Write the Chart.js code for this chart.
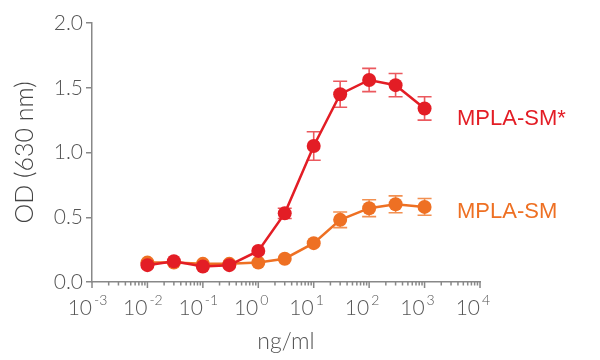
<!DOCTYPE html>
<html>
<head>
<meta charset="utf-8">
<script src="https://cdn.jsdelivr.net/npm/chart.js@4.4.0/dist/chart.umd.min.js"></script>
<style>
  body { margin: 0; background: #fff; }
  #wrap { width: 600px; height: 360px; }
</style>
</head>
<body>
<div id="wrap"><canvas id="myChart"></canvas></div>
<script>
// data
const doses = [0.01, 0.03, 0.1, 0.3, 1, 3, 10, 30, 100, 300, 1000]
const smStar = [0.13, 0.16, 0.12, 0.13, 0.24, 0.53, 1.05, 1.45, 1.56, 1.52, 1.34]
const smStarErr = [0, 0, 0, 0, 0, 0.04, 0.11, 0.1, 0.09, 0.09, 0.09]
const sm = [0.15, 0.15, 0.14, 0.14, 0.15, 0.18, 0.3, 0.48, 0.57, 0.6, 0.58]
const smErr = [0, 0, 0, 0, 0, 0, 0, 0.06, 0.065, 0.065, 0.065]
const xExponents = [-3, -2, -1, 0, 1, 2, 3, 4]
const yTicks = [0, 0.5, 1, 1.5, 2]

const RED = "#e31d25"
const ORANGE = "#ee7023"
const AXIS = "#888"
const TEXT = "#555"

const toPoints = (vals) => vals.map((v, i) => ({ x: doses[i], y: v }))

// error bars, drawn under the markers
const errorBars = {
  id: "errorBars",
  beforeDatasetsDraw(chart) {
    const { ctx, scales } = chart
    const sets = [
      { vals: smStar, err: smStarErr, color: "rgba(232,60,66,0.85)" },
      { vals: sm, err: smErr, color: "rgba(240,125,50,0.85)" },
    ]
    ctx.save()
    ctx.lineWidth = 1.6
    sets.forEach((s) => {
      ctx.strokeStyle = s.color
      s.vals.forEach((v, i) => {
        if (!s.err[i]) return
        const x = scales.x.getPixelForValue(doses[i])
        const yt = scales.y.getPixelForValue(v + s.err[i])
        const yb = scales.y.getPixelForValue(v - s.err[i])
        ctx.beginPath()
        ctx.moveTo(x, yt); ctx.lineTo(x, yb)
        ctx.moveTo(x - 7, yt); ctx.lineTo(x + 7, yt)
        ctx.moveTo(x - 7, yb); ctx.lineTo(x + 7, yb)
        ctx.stroke()
      })
    })
    ctx.restore()
  },
}

// log axis ticks and 10^n labels
const logAxis = {
  id: "logAxis",
  afterDraw(chart) {
    const { ctx, scales, chartArea } = chart
    const sx = scales.x
    const y0 = chartArea.bottom
    ctx.save()
    ctx.strokeStyle = AXIS
    ctx.lineWidth = 1.5
    ctx.beginPath()
    xExponents.forEach((e, k) => {
      const x = sx.getPixelForValue(Math.pow(10, e))
      ctx.moveTo(x, y0); ctx.lineTo(x, y0 + 6)
      if (k < xExponents.length - 1) {
        for (let m = 2; m <= 9; m++) {
          const xm = sx.getPixelForValue(m * Math.pow(10, e))
          ctx.moveTo(xm, y0); ctx.lineTo(xm, y0 + 3.5)
        }
      }
    })
    ctx.stroke()

    ctx.fillStyle = TEXT
    ctx.textBaseline = "alphabetic"
    xExponents.forEach((e) => {
      const x = sx.getPixelForValue(Math.pow(10, e))
      ctx.font = "300 21px Lato"
      ctx.textAlign = "right"
      ctx.fillText("10", x, y0 + 33)
      ctx.font = "300 14px Lato"
      ctx.textAlign = "left"
      ctx.fillText(e < 0 ? "-" + Math.abs(e) : String(e), x + 2, y0 + 23)
    })

    // series labels
    ctx.font = "22px 'Liberation Sans', Arial"
    ctx.textAlign = "left"
    ctx.fillStyle = RED
    ctx.fillText("MPLA-SM*", 457, 125)
    ctx.fillStyle = ORANGE
    ctx.fillText("MPLA-SM", 457, 218)
    ctx.restore()
  },
}

const ctx = document.getElementById("myChart").getContext("2d")
const myChart = new Chart(ctx, {
  type: "line",
  data: {
    datasets: [
      {
        label: "MPLA-SM*",
        data: toPoints(smStar),
        borderColor: RED,
        backgroundColor: RED,
        borderWidth: 2.5,
        pointRadius: 7,
        pointBorderWidth: 0,
        pointBackgroundColor: RED,
      },
      {
        label: "MPLA-SM",
        data: toPoints(sm),
        borderColor: ORANGE,
        backgroundColor: ORANGE,
        borderWidth: 2.5,
        pointRadius: 7,
        pointBorderWidth: 0,
        pointBackgroundColor: ORANGE,
      },
    ],
  },
  options: {
    responsive: true,
    maintainAspectRatio: false,
    animation: false,
    clip: false,
    layout: { padding: { top: 23, right: 120, left: 0, bottom: 0 } },
    plugins: { legend: { display: false }, tooltip: { enabled: false } },
    scales: {
      x: {
        type: "logarithmic",
        min: 0.001,
        max: 10000,
        grid: { display: false },
        border: { color: AXIS, width: 1.5 },
        ticks: { display: false },
        title: {
          display: true,
          text: "ng/ml",
          color: TEXT,
          font: { family: "Lato", size: 23, weight: "300" },
          padding: { top: 0, bottom: 5 },
        },
        afterFit: (s) => { s.height = 78 },
      },
      y: {
        min: 0,
        max: 2,
        afterBuildTicks: (s) => { s.ticks = yTicks.map((v) => ({ value: v })) },
        grid: { drawOnChartArea: false, tickLength: 6, color: AXIS, lineWidth: 1.5 },
        border: { color: AXIS, width: 1.5 },
        ticks: {
          color: TEXT,
          padding: 3,
          font: { family: "Lato", size: 21, weight: "300" },
          callback: (v) => v.toFixed(1),
        },
        title: {
          display: true,
          text: "OD (630 nm)",
          color: "#444",
          font: { family: "Lato", size: 25, weight: "300" },
          padding: { top: 10, bottom: 0 },
        },
        afterFit: (s) => { s.width = 92 },
      },
    },
  },
  plugins: [errorBars, logAxis],
})
</script>
</body>
</html>
